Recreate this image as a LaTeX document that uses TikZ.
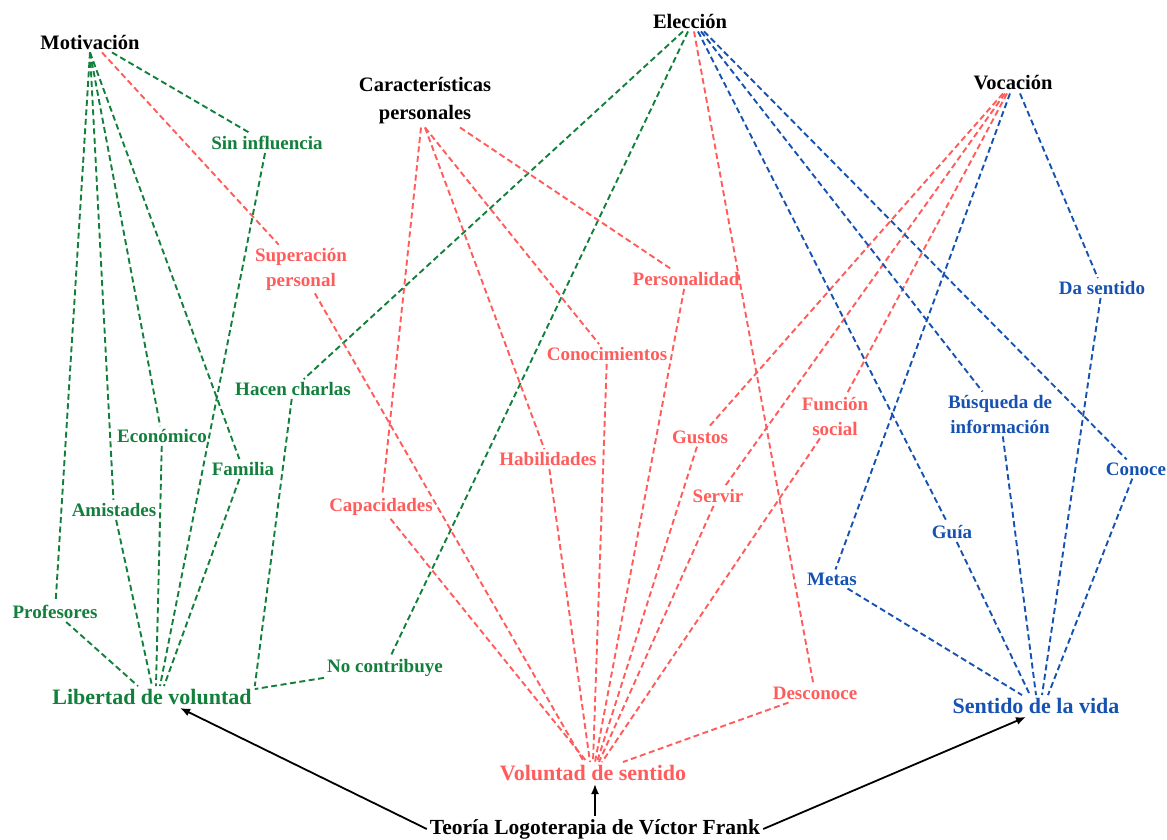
\documentclass[tikz,border=0pt]{standalone}
\usepackage{fontspec}
\setmainfont{Liberation Serif}
\usetikzlibrary{arrows.meta}
\definecolor{cgreen}{RGB}{18,128,60}
\definecolor{cred}{RGB}{255,92,92}
\definecolor{cblue}{RGB}{22,82,178}
\tikzset{
  hub/.style={font=\fontsize{20.5}{28}\selectfont\bfseries, text=black, inner sep=3pt, align=center},
  lbl/.style={font=\fontsize{19}{25}\selectfont\bfseries, inner sep=3pt, align=center},
  gl/.style={lbl, text=cgreen},
  rl/.style={lbl, text=cred},
  bl/.style={lbl, text=cblue},
  big/.style={font=\fontsize{22}{26}\selectfont\bfseries, inner sep=3pt},
  dl/.style={line width=1.9pt, dash pattern=on 6pt off 3.5pt},
  gd/.style={dl, draw=cgreen},
  rd/.style={dl, draw=cred},
  bd/.style={dl, draw=cblue},
  arr/.style={-{Latex[length=10pt,width=8pt]}, line width=1.8pt, draw=black}
}
\begin{document}
\begin{tikzpicture}[x=1pt,y=-1pt]
\useasboundingbox (0,0) rectangle (1167,839);
% hubs
\node[hub] (mot) at (90,42) {Motivación};
\node[hub] (elec) at (690,21) {Elección};
\node[hub] (car) at (425,101) {Características\\personales};
\node[hub] (voc) at (1013,83) {Vocación};
% green labels
\node[gl] (sin) at (267,143) {Sin influencia};
\node[gl] (hacen) at (293,389) {Hacen charlas};
\node[gl] (econ) at (162,436) {Económico};
\node[gl] (fam) at (243,469) {Familia};
\node[gl] (amis) at (114,510) {Amistades};
\node[gl] (prof) at (55,612) {Profesores};
\node[gl] (nocon) at (385,668) {No contribuye};
% red labels
\node[rl] (sup) at (301,269) {Superación\\personal};
\node[rl] (pers) at (686,279) {Personalidad};
\node[rl] (cono) at (607,354) {Conocimientos};
\node[rl] (hab) at (548,459) {Habilidades};
\node[rl] (gus) at (700,437) {Gustos};
\node[rl] (serv) at (718,496) {Servir};
\node[rl] (cap) at (381,507) {Capacidades};
\node[rl] (func) at (835,416) {Función\\social};
\node[rl] (desc) at (815,693) {Desconoce};
% blue labels
\node[bl] (da) at (1102,288) {Da sentido};
\node[bl] (busq) at (1000,414) {Búsqueda de\\información};
\node[bl] (conoce) at (1136,469) {Conoce};
\node[bl] (guia) at (952,532) {Guía};
\node[bl] (metas) at (832,579) {Metas};
% big nodes
\node[big, text=cgreen] (lib) at (152,697) {Libertad de voluntad};
\node[big, text=cred] (vol) at (593,773) {Voluntad de sentido};
\node[big, text=cblue] (sen) at (1036,706) {Sentido de la vida};
\node[hub, font=\fontsize{21.5}{26}\selectfont\bfseries] (teo) at (595,829) {Teoría Logoterapia de Víctor Frank};

% green connectors
\draw[gd] ([xshift=22pt]mot.south) -- (sin);
\draw[gd] (sin) -- ([xshift=8pt]lib.north);
\draw[gd] (mot.south) -- (prof);
\draw[gd] (prof) -- ([xshift=-14pt]lib.north);
\draw[gd] (mot.south) -- (amis);
\draw[gd] (amis) -- (lib.north);
\draw[gd] (mot.south) -- (econ);
\draw[gd] (econ) -- ([xshift=4pt]lib.north);
\draw[gd] (mot.south) -- (fam);
\draw[gd] (fam) -- ([xshift=12pt]lib.north);
\draw[gd] ([xshift=-7pt]elec.south) -- (hacen);
\draw[gd] (hacen) -- (lib.north east);
\draw[gd] ([xshift=-2pt]elec.south) -- (nocon);
\draw[gd] (nocon) -- ([yshift=-3pt]lib.north east);

% red connectors
\draw[rd] ([xshift=12pt]mot.south) -- (sup);
\draw[rd] (sup) -- ([xshift=-9pt]vol.north);
\draw[rd] ([xshift=-4pt]car.south) -- (cap);
\draw[rd] (cap) -- ([xshift=-6pt]vol.north);
\draw[rd] (car.south) -- (hab);
\draw[rd] (hab) -- ([xshift=-3pt]vol.north);
\draw[rd] (car.south) -- (cono);
\draw[rd] (cono) -- (vol.north);
\draw[rd] ([xshift=35pt]car.south) -- (pers);
\draw[rd] (pers) -- ([xshift=2pt]vol.north);
\draw[rd] ([xshift=4pt]elec.south) -- (desc);
\draw[rd] (desc) -- ([xshift=30pt]vol.north);
\draw[rd] ([xshift=-10pt]voc.south) -- (gus);
\draw[rd] (gus) -- ([xshift=4pt]vol.north);
\draw[rd] ([xshift=-8pt]voc.south) -- (serv);
\draw[rd] (serv) -- ([xshift=6pt]vol.north);
\draw[rd] ([xshift=-6pt]voc.south) -- (func);
\draw[rd] (func) -- ([xshift=9pt]vol.north);

% blue connectors
\draw[bd] ([xshift=8pt]elec.south) -- (guia);
\draw[bd] (guia) -- ([xshift=-6pt]sen.north);
\draw[bd] ([xshift=11pt]elec.south) -- (busq);
\draw[bd] (busq) -- (sen.north);
\draw[bd] ([xshift=14pt]elec.south) -- (conoce);
\draw[bd] (conoce) -- ([xshift=12pt]sen.north);
\draw[bd] ([xshift=-3pt]voc.south) -- (metas);
\draw[bd] (metas) -- ([xshift=-14pt]sen.north);
\draw[bd] ([xshift=7pt]voc.south) -- (da);
\draw[bd] (da) -- ([xshift=6pt]sen.north);

% arrows
\draw[arr] (teo.west) -- ([xshift=28pt]lib.south);
\draw[arr] (teo.north) -- (teo.north |- vol.south);
\draw[arr] (teo.east) -- ([xshift=-10pt]sen.south);
\end{tikzpicture}
\end{document}
